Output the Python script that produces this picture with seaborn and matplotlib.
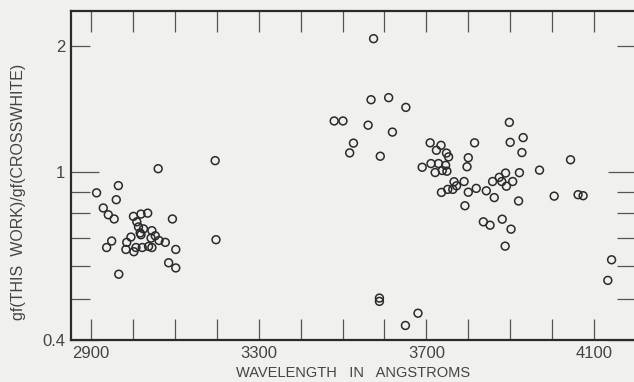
import matplotlib
matplotlib.use("Agg")
import matplotlib.pyplot as plt
import seaborn as sns
import pandas as pd
from matplotlib.ticker import FixedLocator, FuncFormatter, NullFormatter

# wavelength (angstrom) and gf ratio
wl_left = [3060, 3196, 3198, 2965, 2913, 2960, 2929, 2941, 2955, 3001,
           3019, 3035, 3009, 3094, 3013, 3025, 3017, 3019, 3045, 2995,
           3053, 3043, 3062, 3077, 2949, 2985, 2937, 2983, 3002, 3007,
           3022, 3037, 3045, 3102, 3085, 3102, 2966]
ratio_left = [1.02, 1.066, 0.692, 0.93, 0.894, 0.861, 0.823, 0.793, 0.775, 0.786,
              0.796, 0.80, 0.763, 0.775, 0.742, 0.734, 0.718, 0.711, 0.727, 0.702,
              0.707, 0.698, 0.689, 0.682, 0.687, 0.682, 0.663, 0.656, 0.648, 0.663,
              0.663, 0.667, 0.663, 0.656, 0.61, 0.593, 0.573]

wl_right = [3574, 3568, 3610, 3651, 3480, 3501, 3561, 3619, 3526, 3517,
            3590, 3709, 3735, 3724, 3748, 3753, 3815, 3800, 3797, 3690,
            3711, 3729, 3746, 3721, 3738, 3749, 3736, 3751, 3763, 3766,
            3772, 3790, 3800, 3819, 3843, 3862, 3792, 3858, 3874, 3889,
            3880, 3891, 3906, 3836, 3852, 3881, 3902, 3888, 3898, 3900,
            3931, 3928, 4044, 3970, 3922, 3920, 4005, 4062, 4074, 4142,
            4133, 3588, 3588, 3680, 3650]
ratio_right = [2.076, 1.487, 1.504, 1.426, 1.324, 1.324, 1.294, 1.246, 1.173, 1.112,
               1.092, 1.175, 1.159, 1.128, 1.111, 1.088, 1.175, 1.083, 1.031, 1.028,
               1.049, 1.049, 1.039, 0.999, 1.010, 1.006, 0.896, 0.911, 0.911, 0.950,
               0.929, 0.951, 0.897, 0.916, 0.904, 0.871, 0.833, 0.951, 0.973, 0.996,
               0.951, 0.927, 0.951, 0.763, 0.749, 0.774, 0.733, 0.668, 1.314, 1.178,
               1.209, 1.114, 1.071, 1.012, 0.998, 0.855, 0.878, 0.885, 0.880, 0.620,
               0.554, 0.503, 0.494, 0.463, 0.433]

df = pd.DataFrame({"wl": wl_left + wl_right, "ratio": ratio_left + ratio_right})

sns.set_theme(style="ticks")
plt.rcParams["font.family"] = ["Liberation Sans", "DejaVu Sans"]

bg = "#f0f0ef"
ink = "#2a2a2a"
fig = plt.figure(figsize=(6.34, 3.82), dpi=100, facecolor=bg)
ax = fig.add_axes([0.112, 0.11, 0.891, 0.861])
ax.set_facecolor(bg)

sns.scatterplot(data=df, x="wl", y="ratio", ax=ax, marker="o", s=32, legend=False)
pts = ax.collections[0]
pts.set_facecolor("none")
pts.set_edgecolor(ink)
pts.set_linewidth(1.1)

ax.set_yscale("log")
ax.set_xlim(2852, 4200)
ax.set_ylim(0.4, 2.414)

ax.xaxis.set_major_locator(FixedLocator([2900, 3300, 3700, 4100]))
ax.xaxis.set_minor_locator(FixedLocator([3000, 3100, 3200, 3400, 3500, 3600,
                                         3800, 3900, 4000]))
ax.yaxis.set_major_locator(FixedLocator([0.4, 1]))
ax.yaxis.set_major_formatter(FuncFormatter(lambda v, p: "0.4" if v < 0.5 else "1"))
ax.yaxis.set_minor_locator(FixedLocator([0.5, 0.6, 0.7, 0.8, 0.9, 2]))
ax.yaxis.set_minor_formatter(FuncFormatter(lambda v, p: "2" if abs(v - 2) < 1e-6 else ""))
ax.xaxis.set_minor_formatter(NullFormatter())

for side in ["left", "bottom", "top", "right"]:
    ax.spines[side].set_visible(True)
    ax.spines[side].set_color(ink)
    ax.spines[side].set_linewidth(1.6)

ax.tick_params(axis="both", which="both", direction="in", top=True, right=True,
               color="#555555", width=0.9, labelcolor="#444444", labelsize=12)
ax.tick_params(axis="x", which="both", length=15, pad=4)
ax.tick_params(axis="y", which="major", length=20, pad=4)
ax.tick_params(axis="y", which="minor", length=14, pad=4)

ax.set_xlabel("WAVELENGTH   IN   ANGSTROMS", color="#444444", fontsize=10.5, labelpad=4)
ax.set_ylabel("gf(THIS  WORK)/gf(CROSSWHITE)", color="#444444", fontsize=11.5)
ax.yaxis.set_label_coords(-0.08, 0.45)

fig.savefig("out.png", dpi=100, facecolor=bg)
